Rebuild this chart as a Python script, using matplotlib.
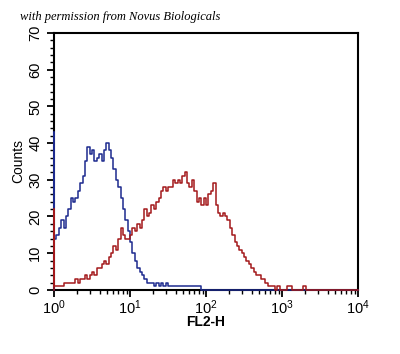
import numpy as np
import matplotlib
matplotlib.use("Agg")
import matplotlib.pyplot as plt
from matplotlib.ticker import LogLocator, MultipleLocator, LogFormatterSciNotation

# histogram counts, 32 channels per decade, starting at 10^0
channels_per_decade = 32
blue_counts = [43, 14, 15, 17, 19, 17, 20, 22, 25, 24, 25, 27, 29, 31, 35, 39,
               37, 38, 35, 36, 37, 35, 38, 40, 38, 36, 33, 30, 28, 25, 22, 19,
               16, 13, 10, 8, 6, 5, 4, 3, 2, 2, 2, 1, 2, 1, 2, 1,
               2, 1, 1, 1, 1, 1, 1, 1, 1, 1, 1, 1, 1, 1, 1, 0,
               0, 0, 0, 0, 0, 0, 0, 0, 0, 0, 0, 0, 0, 0, 0, 0,
               0, 0, 0, 0, 0, 0, 0, 0, 0, 0, 0, 0, 0, 0, 0, 0,
               0, 0, 0, 0, 0, 0, 0, 0, 0, 0, 0, 0, 0, 0, 0, 0,
               0, 0, 0, 0, 0, 0, 0, 0, 0, 0, 0, 0, 0, 0, 0, 0, 0]
red_counts = [22, 1, 1, 1, 1, 2, 2, 2, 2, 2, 3, 2, 3, 3, 4, 3,
              4, 5, 4, 6, 6, 7, 8, 7, 9, 10, 12, 11, 14, 17, 15, 14,
              14, 15, 17, 16, 18, 17, 19, 22, 20, 21, 23, 22, 24, 25, 27, 28,
              27, 28, 28, 30, 29, 30, 29, 31, 32, 29, 28, 30, 27, 24, 25, 23,
              25, 23, 26, 27, 29, 23, 21, 20, 21, 20, 19, 17, 15, 13, 12, 11,
              10, 9, 8, 7, 6, 5, 4, 4, 3, 3, 2, 1, 1, 1, 0, 1,
              0, 0, 0, 1, 1, 0, 0, 0, 0, 0, 1, 0, 0, 0, 0, 0,
              0, 0, 0, 0, 0, 0, 0, 0, 0, 0, 0, 0, 0, 0, 0, 0, 0]

y_ticks = [0, 10, 20, 30, 40, 50, 60, 70]

plt.rcParams['font.family'] = ['Liberation Sans', 'DejaVu Sans']

fig = plt.figure(figsize=(4.0, 3.54), dpi=100)
ax = fig.add_axes([0.135, 0.181, 0.76, 0.726])

ch = np.arange(len(blue_counts)) / channels_per_decade
x = 10 ** ch
ax.plot(np.r_[x[0], x], np.r_[0, blue_counts], drawstyle='steps-pre',
        color='#1c2a8e', lw=1.1, clip_on=False, zorder=3)
ax.plot(np.r_[x[0], x], np.r_[0, red_counts], drawstyle='steps-pre',
        color='#a3191b', lw=1.1, clip_on=False, zorder=3)

ax.set_xscale('log')
ax.set_xlim(1, 1e4)
ax.set_ylim(0, 70)
ax.set_yticks(y_ticks)
ax.yaxis.set_minor_locator(MultipleLocator(2))
ax.xaxis.set_major_locator(LogLocator(base=10))
ax.xaxis.set_minor_locator(LogLocator(base=10, subs=np.arange(2, 10)))
ax.xaxis.set_major_formatter(LogFormatterSciNotation())

for s in ax.spines.values():
    s.set_linewidth(1.5)
ax.tick_params(axis='both', which='major', length=5, width=1.3, labelsize=10.5, direction='out')
ax.tick_params(axis='both', which='minor', length=3, width=1.0, direction='out')
ax.tick_params(axis='x', pad=1)
for lab in ax.get_yticklabels():
    lab.set_rotation(90)
    lab.set_va('center')

ax.set_ylabel('Counts', fontsize=10, labelpad=2)
ax.set_xlabel('FL2-H', fontsize=10, labelpad=-1, fontweight='bold')

fig.text(0.05, 0.952, 'with permission from Novus Biologicals', fontsize=9,
         family=['Liberation Serif', 'DejaVu Serif'], style='italic', va='center')

fig.savefig('out.png', dpi=100)
